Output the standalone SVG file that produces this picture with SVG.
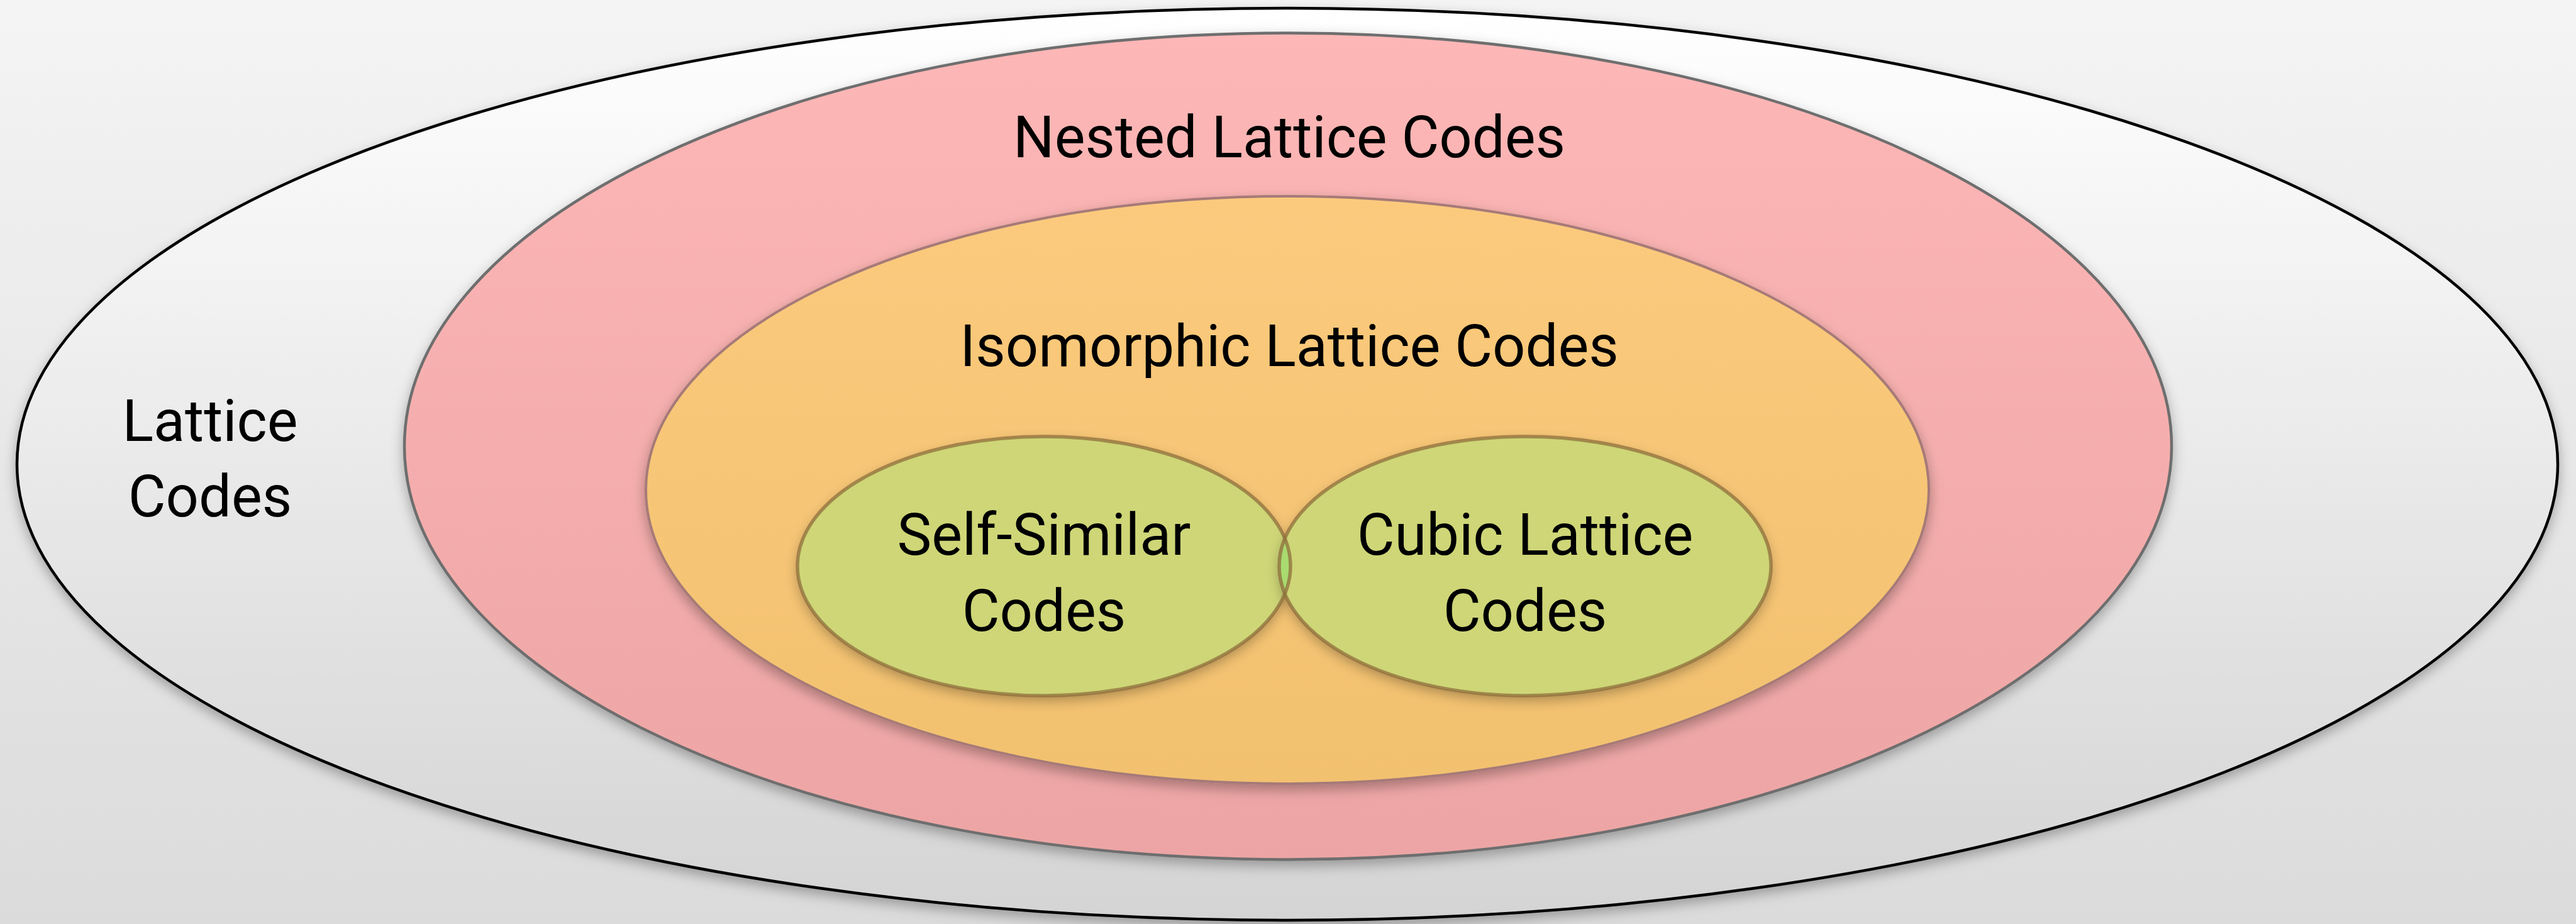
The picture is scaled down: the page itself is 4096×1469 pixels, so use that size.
<svg xmlns="http://www.w3.org/2000/svg" width="4096" height="1469" viewBox="0 0 4096 1469">
<defs>
<linearGradient id="bg" x1="0" y1="0" x2="0" y2="1"><stop offset="0" stop-color="#f4f4f4"/><stop offset="1" stop-color="#dbdbdb"/></linearGradient>
<linearGradient id="gOuter" x1="0" y1="0" x2="0" y2="1"><stop offset="0" stop-color="#ffffff"/><stop offset="1" stop-color="#d4d4d4"/></linearGradient>
<linearGradient id="gPink" x1="0" y1="0" x2="0" y2="1"><stop offset="0" stop-color="#fdb7b6"/><stop offset="1" stop-color="#eca5a4"/></linearGradient>
<linearGradient id="gOrange" x1="0" y1="0" x2="0" y2="1"><stop offset="0" stop-color="#fbca7d"/><stop offset="1" stop-color="#f2c16f"/></linearGradient>
<filter id="sh" x="-10%" y="-10%" width="120%" height="130%"><feDropShadow dx="0" dy="8" stdDeviation="10" flood-color="#000" flood-opacity="0.3"/></filter>
<clipPath id="clipL"><ellipse cx="1660" cy="900" rx="392" ry="206"/></clipPath>
</defs>
<style>
.lbl{font-family:Roboto,"Liberation Sans",sans-serif;font-size:92px;fill:#000;text-anchor:middle}
.gr{fill:#ced677;stroke:none}
.grs{fill:none;stroke:#8f6f3c;stroke-opacity:0.75;stroke-width:5.5}
</style>
<rect width="4096" height="1469" fill="url(#bg)"/>
<g id="lattice-codes">
<ellipse cx="2047" cy="738" rx="2020" ry="725" fill="url(#gOuter)" stroke="#000" stroke-width="4.5" filter="url(#sh)"/>
<text class="lbl" x="334" y="701">Lattice</text>
<text class="lbl" x="334" y="821">Codes</text>
</g>
<g id="nested-lattice-codes">
<ellipse cx="2048" cy="709.5" rx="1405" ry="657" fill="url(#gPink)" stroke="#6e6e6e" stroke-width="4.5" filter="url(#sh)"/>
<text class="lbl" x="2050" y="250">Nested Lattice Codes</text>
</g>
<g id="isomorphic-lattice-codes">
<ellipse cx="2047" cy="779" rx="1020" ry="467" fill="url(#gOrange)" stroke="#a67a78" stroke-width="4" filter="url(#sh)"/>
<text class="lbl" x="2050" y="582">Isomorphic Lattice Codes</text>
</g>
<g id="self-similar-codes">
<ellipse cx="1660" cy="900" rx="392" ry="206" class="gr" filter="url(#sh)"/>
</g>
<g id="cubic-lattice-codes">
<ellipse cx="2425" cy="900" rx="391" ry="206" class="gr" filter="url(#sh)"/>
</g>
<ellipse cx="2425" cy="900" rx="391" ry="206" fill="#a9db70" clip-path="url(#clipL)"/>
<ellipse cx="1660" cy="900" rx="392" ry="206" class="grs"/>
<ellipse cx="2425" cy="900" rx="391" ry="206" class="grs"/>
<text class="lbl" x="1660" y="882">Self-Similar</text>
<text class="lbl" x="1660" y="1003">Codes</text>
<text class="lbl" x="2425" y="882">Cubic Lattice</text>
<text class="lbl" x="2425" y="1003">Codes</text>
<g id="connectors"/>
</svg>
